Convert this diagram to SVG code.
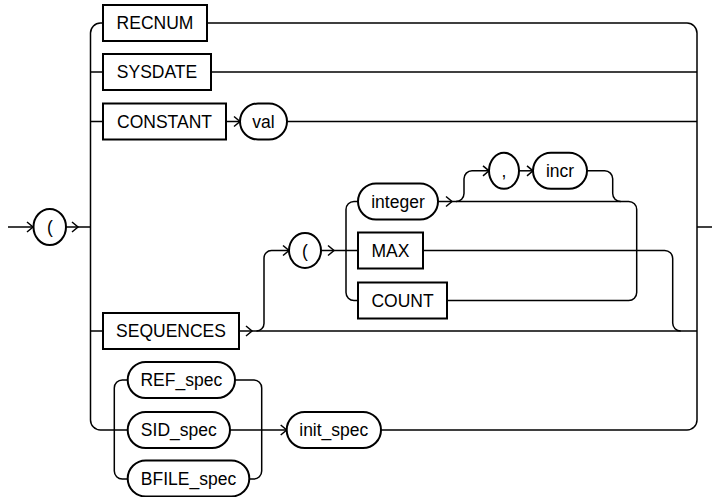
<svg xmlns="http://www.w3.org/2000/svg" xmlns:xlink="http://www.w3.org/1999/xlink" width="712" height="497" viewBox="0 0 712 497">
<style>
  .box{fill:#fff;stroke:#000;stroke-width:2}
  .ov{fill:#fff;stroke:#000;stroke-width:2}
  .ln{fill:none;stroke:#000;stroke-width:1.5}
  .ar{fill:none;stroke:#000;stroke-width:1.5}
  text{font-family:"Liberation Sans",Arial,sans-serif;font-size:17.5px;text-anchor:middle;fill:#000}
</style>
<defs>
  <path id="arr" class="ar" d="M-6,-5 L0,0 L-6,5"/>
</defs>
<rect width="712" height="497" fill="#fff"/>
<g id="connectors">
  <path class="ln" d="M8,227 H33"/>
  <path class="ln" d="M66,227 H90.5"/>
  <path class="ln" d="M103,23 H100.5 A10,10 0 0 0 90.5,33 V420 A10,10 0 0 0 100.5,430 H127.7"/>
  <path class="ln" d="M90.5,72 H103 M90.5,121.5 H103 M90.5,331 H103"/>
  <path class="ln" d="M207,23 H687 A10,10 0 0 1 697,33 V420 A10,10 0 0 1 687,430 H381"/>
  <path class="ln" d="M211,72 H697"/>
  <path class="ln" d="M226,121.5 H240 M287,121.5 H697"/>
  <path class="ln" d="M697,227 H712"/>
  <path class="ln" d="M239,331 H697"/>
  <path class="ln" d="M256.5,331 A7.5,7.5 0 0 0 264,323.5 V258 A7.5,7.5 0 0 1 271.5,250.5 H289"/>
  <path class="ln" d="M321,250.5 H358"/>
  <path class="ln" d="M358,201.5 H354 A8,8 0 0 0 346,209.5 V292.5 A8,8 0 0 0 354,300.5 H358"/>
  <path class="ln" d="M438,201.5 H628.7 A8,8 0 0 1 636.7,209.5 V292.5 A8,8 0 0 1 628.7,300.5 H447"/>
  <path class="ln" d="M456,201.5 A8,8 0 0 0 464,193.5 V178.8 A8,8 0 0 1 472,170.8 H489"/>
  <path class="ln" d="M519,170.8 H533"/>
  <path class="ln" d="M587,170.8 H604.7 A8,8 0 0 1 612.7,178.8 V193.5 A8,8 0 0 0 620.7,201.5"/>
  <path class="ln" d="M423,250.5 H664.7 A8,8 0 0 1 672.7,258.5 V323 A8,8 0 0 0 680.7,331"/>
  <path class="ln" d="M127.7,380 H122.3 A8,8 0 0 0 114.3,388 V471 A8,8 0 0 0 122.3,479 H127.7"/>
  <path class="ln" d="M235,380 H253.7 A8,8 0 0 1 261.7,388 V471 A8,8 0 0 1 253.7,479 H249.3"/>
  <path class="ln" d="M230,430 H286.7"/>
  <use xlink:href="#arr" x="33" y="227"/>
  <use xlink:href="#arr" x="78" y="227"/>
  <use xlink:href="#arr" x="240" y="121.5"/>
  <use xlink:href="#arr" x="252" y="331"/>
  <use xlink:href="#arr" x="289" y="250.5"/>
  <use xlink:href="#arr" x="334" y="250.5"/>
  <use xlink:href="#arr" x="452" y="201.5"/>
  <use xlink:href="#arr" x="489" y="170.8"/>
  <use xlink:href="#arr" x="533" y="170.8"/>
  <use xlink:href="#arr" x="286.7" y="430"/>
</g>
<g id="lparen1"><rect class="ov" x="33.5" y="209" width="32.5" height="36" rx="16.25" ry="18"/><text x="50" y="233">(</text></g>
<g id="recnum"><rect class="box" x="103" y="5" width="104" height="36"/><text x="155" y="29.3">RECNUM</text></g>
<g id="sysdate"><rect class="box" x="103" y="54" width="108" height="36"/><text x="157" y="78.3">SYSDATE</text></g>
<g id="constant"><rect class="box" x="103" y="103.5" width="123" height="36"/><text x="164.5" y="127.8">CONSTANT</text></g>
<g id="val"><rect class="ov" x="240" y="103.5" width="47" height="36" rx="18"/><text x="263.5" y="127.8">val</text></g>
<g id="sequences"><rect class="box" x="103" y="313" width="136" height="36"/><text x="171" y="337.3">SEQUENCES</text></g>
<g id="lparen2"><rect class="ov" x="289" y="233" width="32" height="35" rx="16" ry="17.5"/><text x="305" y="256.8">(</text></g>
<g id="integer"><rect class="ov" x="358" y="183.5" width="80" height="36" rx="18"/><text x="398" y="207.8">integer</text></g>
<g id="comma"><rect class="ov" x="489" y="152.8" width="30" height="36" rx="15" ry="18"/><text x="504" y="177.1">,</text></g>
<g id="incr"><rect class="ov" x="533" y="152.8" width="54" height="36" rx="18"/><text x="560" y="177.1">incr</text></g>
<g id="max"><rect class="box" x="358" y="232.5" width="65" height="36"/><text x="390.5" y="256.8">MAX</text></g>
<g id="count"><rect class="box" x="358" y="282.5" width="89" height="36"/><text x="402.5" y="306.8">COUNT</text></g>
<g id="ref_spec"><rect class="ov" x="127.7" y="362" width="107.3" height="36" rx="18"/><text x="181.3" y="386.3">REF_spec</text></g>
<g id="sid_spec"><rect class="ov" x="127.7" y="412" width="102.3" height="36" rx="18"/><text x="178.8" y="436.3">SID_spec</text></g>
<g id="bfile_spec"><rect class="ov" x="127.7" y="460.5" width="121.6" height="36" rx="18"/><text x="188.5" y="484.8">BFILE_spec</text></g>
<g id="init_spec"><rect class="ov" x="286.7" y="412" width="94.3" height="36" rx="18"/><text x="333.8" y="436.3">init_spec</text></g>
</svg>
